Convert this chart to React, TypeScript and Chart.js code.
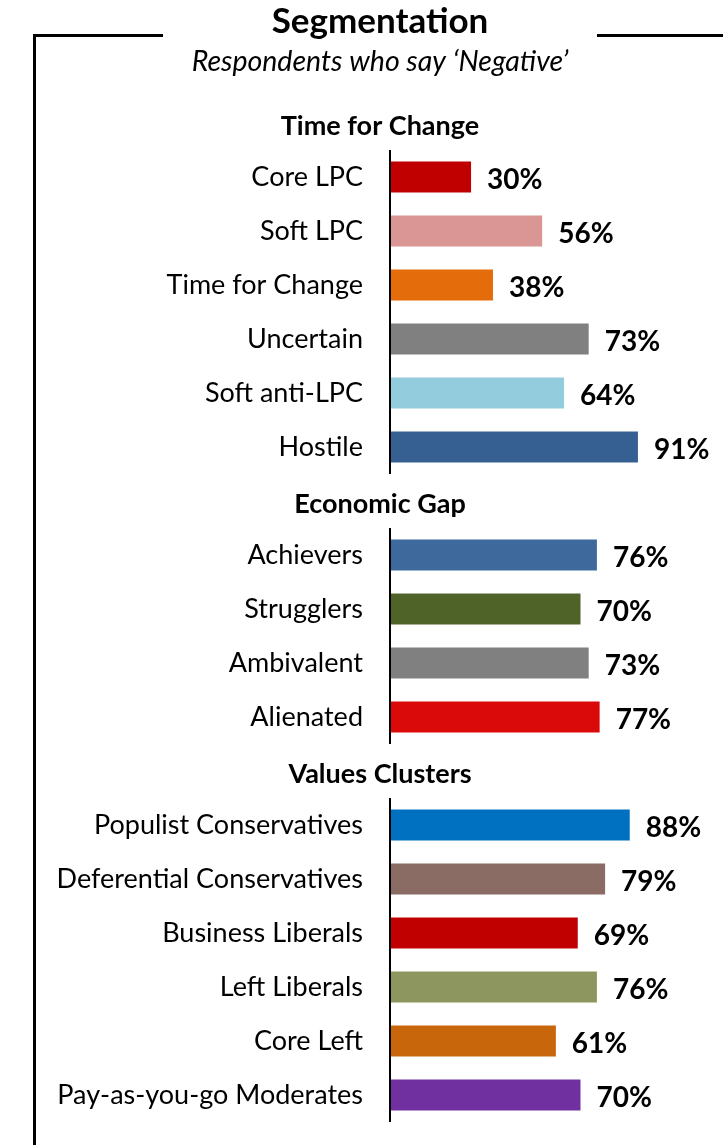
import React, { useEffect, useRef } from "react";
import { Chart, registerables } from "chart.js";

Chart.register(...registerables);

const chartTitle = "Segmentation";
const chartSubtitle = "Respondents who say \u2018Negative\u2019";

const groupTitles = ["Time for Change", "Economic Gap", "Values Clusters"];

const timeForChangeSegments = ["Core LPC", "Soft LPC", "Time for Change", "Uncertain", "Soft anti-LPC", "Hostile"];
const timeForChangeValues = [30, 56, 38, 73, 64, 91];
const timeForChangeColors = ["#C00000", "#D99694", "#E46C0A", "#808080", "#93CDDD", "#376092"];

const economicGapSegments = ["Achievers", "Strugglers", "Ambivalent", "Alienated"];
const economicGapValues = [76, 70, 73, 77];
const economicGapColors = ["#3E699C", "#4F6228", "#808080", "#DA0A0A"];

const valuesClusterSegments = [
  "Populist Conservatives",
  "Deferential Conservatives",
  "Business Liberals",
  "Left Liberals",
  "Core Left",
  "Pay-as-you-go Moderates",
];
const valuesClusterValues = [88, 79, 69, 76, 61, 70];
const valuesClusterColors = ["#0070C0", "#8A6C64", "#C00000", "#8E9660", "#C8660C", "#7030A0"];

const FONT = "Lato, 'Open Sans', sans-serif";

export default function App() {
  const canvasRef = useRef<HTMLCanvasElement | null>(null);

  useEffect(() => {
    const groups = [
      { title: groupTitles[0], labels: timeForChangeSegments, values: timeForChangeValues, colors: timeForChangeColors },
      { title: groupTitles[1], labels: economicGapSegments, values: economicGapValues, colors: economicGapColors },
      { title: groupTitles[2], labels: valuesClusterSegments, values: valuesClusterValues, colors: valuesClusterColors },
    ];
    const labels: string[] = [];
    const data: (number | null)[] = [];
    const colors: string[] = [];
    const headerIdx: number[] = [];
    const ranges: [number, number][] = [];
    groups.forEach((g) => {
      headerIdx.push(labels.length);
      labels.push(g.title);
      data.push(null);
      colors.push("transparent");
      const start = labels.length;
      g.labels.forEach((l, i) => {
        labels.push(l);
        data.push(g.values[i]);
        colors.push(g.colors[i]);
      });
      ranges.push([start, labels.length - 1]);
    });

    const decor = {
      id: "decor",
      beforeDraw(chart: any) {
        const ctx = chart.ctx;
        ctx.save();
        ctx.strokeStyle = "#000";
        ctx.lineWidth = 3;
        ctx.beginPath();
        ctx.moveTo(34.5, chart.height);
        ctx.lineTo(34.5, 35.5);
        ctx.lineTo(163, 35.5);
        ctx.moveTo(597, 35.5);
        ctx.lineTo(chart.width, 35.5);
        ctx.stroke();
        ctx.restore();
      },
      afterDatasetsDraw(chart: any) {
        const ctx = chart.ctx;
        const x = chart.scales.x;
        const y = chart.scales.y;
        const half = (y.getPixelForValue(1) - y.getPixelForValue(0)) / 2;
        ctx.save();
        ctx.strokeStyle = "#000";
        ctx.lineWidth = 2;
        ranges.forEach(([a, b]) => {
          ctx.beginPath();
          ctx.moveTo(x.getPixelForValue(0) + 1, y.getPixelForValue(a) - half);
          ctx.lineTo(x.getPixelForValue(0) + 1, y.getPixelForValue(b) + half);
          ctx.stroke();
        });
        ctx.fillStyle = "#000";
        ctx.font = `bold 27px ${FONT}`;
        ctx.textAlign = "center";
        ctx.textBaseline = "middle";
        const cx = (chart.chartArea.left + chart.chartArea.right) / 2;
        headerIdx.forEach((hi) => {
          ctx.fillText(labels[hi], chart.width / 2 + 18.5, y.getPixelForValue(hi) + 3);
        });
        ctx.font = `bold 28px ${FONT}`;
        ctx.textAlign = "left";
        data.forEach((v, i) => {
          if (v == null) return;
          ctx.fillText(`${v}%`, x.getPixelForValue(v) + 16, y.getPixelForValue(i) + 3);
        });
        ctx.restore();
      },
    };

    const chart = new Chart(canvasRef.current!, {
      type: "bar",
      data: {
        labels,
        datasets: [
          {
            data,
            backgroundColor: colors,
            barPercentage: 0.574,
            categoryPercentage: 1,
          },
        ],
      },
      options: {
        indexAxis: "y",
        animation: false,
        responsive: false,
        layout: { padding: { top: 1, left: 40, right: 3, bottom: 23 } },
        plugins: {
          legend: { display: false },
          tooltip: { enabled: false },
          title: {
            display: true,
            text: chartTitle,
            color: "#000",
            font: { family: FONT, size: 35, weight: "bold", lineHeight: 1.2 },
            padding: { top: 0, bottom: 1.9 },
          },
          subtitle: {
            display: true,
            text: chartSubtitle,
            color: "#000",
            font: { family: FONT, size: 28.5, style: "italic", lineHeight: 1.2 },
            padding: { top: 0, bottom: 16.9 },
          },
        },
        scales: {
          x: { display: false, min: 0, max: 121 },
          y: {
            type: "category",
            grid: { display: false, drawTicks: false },
            border: { display: false },
            afterFit: (s: any) => {
              s.width = 389 - 40;
              s.paddingTop = 0;
              s.paddingBottom = 0;
            },
            ticks: {
              color: "#000",
              padding: 26,
              font: { family: FONT, size: 27 },
              callback: (_v: any, i: number) => (headerIdx.includes(i) ? "" : labels[i]),
            },
          },
        },
      },
      plugins: [decor],
    });
    return () => chart.destroy();
  }, []);

  return (
    <div style={{ position: "absolute", left: 0, top: 0, width: 723, height: 1145, background: "#fff" }}>
      <canvas ref={canvasRef} width={723} height={1145} style={{ display: "block" }} />
    </div>
  );
}
